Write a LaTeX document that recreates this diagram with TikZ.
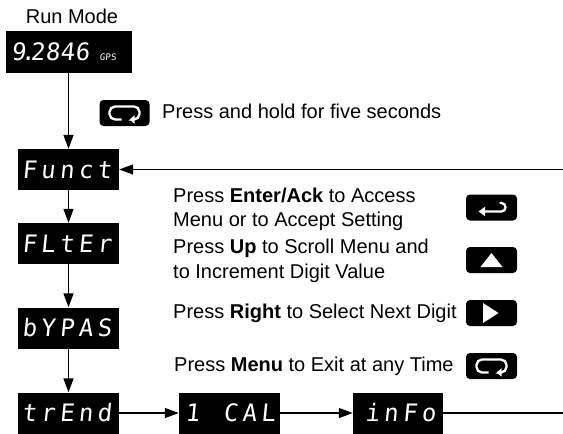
\documentclass[tikz,border=0pt]{standalone}
\usepackage{fontspec}
\setmainfont{Liberation Sans}
\newfontfamily\segfont[LetterSpace=18,FakeSlant=0.1]{DejaVu Sans Mono}
\newfontfamily\segnum[LetterSpace=2,FakeSlant=0.1]{DejaVu Sans Mono}
\usetikzlibrary{arrows.meta}
\tikzset{
  disp/.style={fill=black,text=white,minimum width=101pt,minimum height=41pt,inner sep=0pt,
    text width=93pt,text height=17.5pt,text depth=0pt,align=left,font=\segfont\fontsize{24}{24}\selectfont},
  conn/.style={line width=1.4pt,black},
  arr/.style={conn,-{Triangle[length=14pt,width=10pt]}},
  key/.style={fill=black,rounded corners=4pt,minimum width=51pt,minimum height=26pt,inner sep=0pt},
  keysym/.style={white,line width=2.3pt},
  lbl/.style={font=\fontsize{20}{24}\selectfont,anchor=base west,inner sep=0pt},
  loopsym/.pic={
    \draw[keysym,rounded corners=5.5pt,-{Triangle[length=5pt,width=8pt]}]
      (-3,6.5) -- (-15,6.5) -- (-15,-6.5) -- (15,-6.5) -- (15,6.5) -- (5,6.5);
  },
  entersym/.pic={
    \draw[keysym,rounded corners=4pt,-{Triangle[length=6.5pt,width=9pt]}]
      (8,-4.5) -- (14,-4.5) -- (14,4) -- (-13,4);
  },
  upsym/.pic={\fill[white] (-11,7) -- (11,7) -- (0,-7) -- cycle;},
  rightsym/.pic={\fill[white] (-8.5,-10) -- (-8.5,10) -- (7,0) -- cycle;}
}
\begin{document}
\begin{tikzpicture}[x=1pt,y=-1pt]
\useasboundingbox (0,0) rectangle (563,434);
% title
\node[font=\fontsize{20}{24}\selectfont,anchor=base,inner sep=0pt] (runlbl) at (72,23) {Run Mode};
% displays
\node[disp,minimum width=126pt,minimum height=42pt,text width=114pt] (run) at (68.5,52)
  {\segnum\fontsize{24}{24}\selectfont 9\kern-5pt.\kern-5pt2846\hspace{10pt}{\fontsize{9}{9}\selectfont GPS}};
\node[disp] (funct) at (68.5,169.5) {Funct};
\node[disp] (filt) at (68.5,243.5) {FLtEr};
\node[disp] (bypas) at (68.5,328) {bYPAS};
\node[disp] (trend) at (68.5,413) {trEnd};
\node[disp] (ical) at (229.5,413) {\hspace{2pt}1\hspace{24pt}CAL};
\node[disp,minimum width=90pt,text width=90pt] (info) at (398,413) {\hspace{12pt}inFo};
% edge coordinates
\coordinate (re1) at (563,169.5);
\coordinate (re2) at (563,413);
% connectors
\draw[arr] (run) -- (funct);
\draw[arr] (funct) -- (filt);
\draw[arr] (filt) -- (bypas);
\draw[arr] (bypas) -- (trend);
\draw[arr] (trend) -- (ical);
\draw[arr] (ical) -- (info);
\draw[conn] (info) -- (re2);
\draw[arr] (re1) -- (funct);
% keys
\node[key,minimum width=50pt] (kloop) at (124.5,113) {};
\pic at (kloop.center) {loopsym};
\node[key] (kenter) at (491.5,207.5) {};
\pic at (kenter.center) {entersym};
\node[key] (kup) at (491.5,260) {};
\pic at (kup.center) {upsym};
\node[key] (kright) at (491.5,313) {};
\pic at (kright.center) {rightsym};
\node[key] (kmenu) at (491.5,366) {};
\pic at (kmenu.center) {loopsym};
% labels
\node[lbl] (hold) at (162,118) {Press and hold for five seconds};
\node[lbl] (t1) at (173,202) {Press \textbf{Enter/Ack} to Access};
\node[lbl] (t2) at (173,226) {Menu or to Accept Setting};
\node[lbl] (t3) at (173,253) {Press \textbf{Up} to Scroll Menu and};
\node[lbl] (t4) at (173,278) {to Increment Digit Value};
\node[lbl] (t5) at (173,318) {Press \textbf{Right} to Select Next Digit};
\node[lbl] (t6) at (174,371.5) {Press \textbf{Menu} to Exit at any Time};
\end{tikzpicture}
\end{document}
